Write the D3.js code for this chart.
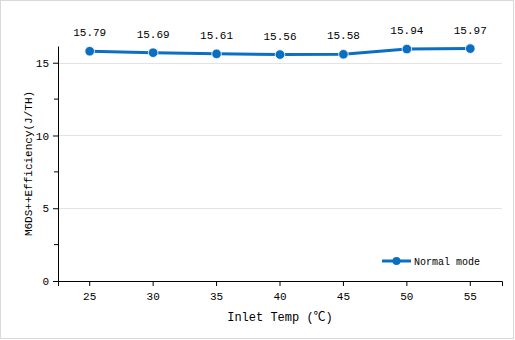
<!DOCTYPE html>
<html>
<head>
<meta charset="utf-8">
<script src="https://cdn.jsdelivr.net/npm/d3@7"></script>
<style>
  html, body { margin: 0; padding: 0; background: #fff; }
  svg text { font-family: "Liberation Mono", "DejaVu Sans Mono", "Noto Sans CJK SC", monospace; fill: #000; }
</style>
</head>
<body>
<svg id="chart" width="515" height="340"></svg>
<script>
// Inlet temperature categories and measured efficiency
const temps = ["25", "30", "35", "40", "45", "50", "55"];
const efficiency = [15.79, 15.69, 15.61, 15.56, 15.58, 15.94, 15.97];
const yMajorTicks = [0, 5, 10, 15];
const yMinorTicks = [2.5, 7.5, 12.5];
const seriesName = "Normal mode";
const xTitle = "Inlet Temp (℃)";
const yTitle = "M6DS++Efficiency(J/TH)";

const W = 515, H = 340;
const m = { left: 58, right: 13, top: 46, bottom: 59 };
const blue = "#0a6fc1";

const svg = d3.select("#chart");

// outer frame
svg.append("rect")
  .attr("x", 0.5).attr("y", 0.5)
  .attr("width", W - 2).attr("height", H - 2)
  .attr("fill", "#fff").attr("stroke", "#d9d9d9");

const x = d3.scaleBand().domain(temps).range([m.left, W - m.right]);
const y = d3.scaleLinear().domain([0, 16.15]).range([H - m.bottom, m.top]);

// horizontal gridlines
svg.append("g")
  .selectAll("line")
  .data(yMajorTicks.filter(d => d > 0))
  .join("line")
  .attr("x1", m.left).attr("x2", W - m.right)
  .attr("y1", d => Math.round(y(d)) + 0.5).attr("y2", d => Math.round(y(d)) + 0.5)
  .attr("stroke", "#e3e3e3");

// y axis with major labels and minor ticks
const yAxis = svg.append("g")
  .attr("transform", `translate(${m.left},0)`)
  .call(d3.axisLeft(y).tickValues(yMajorTicks).tickSize(5).tickSizeOuter(0).tickPadding(4));
yAxis.selectAll(".tick text").attr("font-size", 11);
yAxis.append("g")
  .selectAll("line")
  .data(yMinorTicks)
  .join("line")
  .attr("x1", -4).attr("x2", 0)
  .attr("y1", d => y(d)).attr("y2", d => y(d))
  .attr("stroke", "#000");

// x axis
const xAxis = svg.append("g")
  .attr("transform", `translate(0,${H - m.bottom})`)
  .call(d3.axisBottom(x).tickSize(5).tickSizeOuter(5).tickPadding(6));
xAxis.selectAll(".tick text").attr("font-size", 11);
svg.selectAll(".domain").attr("stroke", "#000");
svg.selectAll(".tick line").attr("stroke", "#000");

// axis titles
svg.append("text")
  .attr("x", (m.left + W - m.right) / 2).attr("y", 321)
  .attr("text-anchor", "middle").attr("font-size", 12)
  .text(xTitle);
svg.append("text")
  .attr("transform", `translate(32,${(m.top + H - m.bottom) / 2}) rotate(-90)`)
  .attr("text-anchor", "middle").attr("font-size", 11)
  .text(yTitle);

const cx = d => x(d) + x.bandwidth() / 2;

// series line
svg.append("path")
  .datum(temps.map((t, i) => [t, efficiency[i]]))
  .attr("fill", "none").attr("stroke", blue).attr("stroke-width", 3)
  .attr("d", d3.line().x(d => cx(d[0])).y(d => y(d[1])));

// markers
svg.append("g")
  .selectAll("circle")
  .data(efficiency)
  .join("circle")
  .attr("cx", (d, i) => cx(temps[i]))
  .attr("cy", d => y(d))
  .attr("r", 4.8)
  .attr("fill", blue).attr("stroke", "#fff").attr("stroke-width", 0.8);

// value labels
svg.append("g")
  .selectAll("text")
  .data(efficiency)
  .join("text")
  .attr("x", (d, i) => cx(temps[i]))
  .attr("y", d => y(d) - 15)
  .attr("text-anchor", "middle").attr("font-size", 11)
  .text(d => d.toFixed(2));

// legend
const lg = svg.append("g").attr("transform", "translate(382,261)");
lg.append("line").attr("x1", 0).attr("x2", 29).attr("y1", 0).attr("y2", 0)
  .attr("stroke", blue).attr("stroke-width", 3);
lg.append("circle").attr("cx", 14.5).attr("cy", 0).attr("r", 4)
  .attr("fill", blue);
lg.append("text").attr("x", 32).attr("y", 3.5).attr("font-size", 10)
  .text(seriesName);
</script>
</body>
</html>
